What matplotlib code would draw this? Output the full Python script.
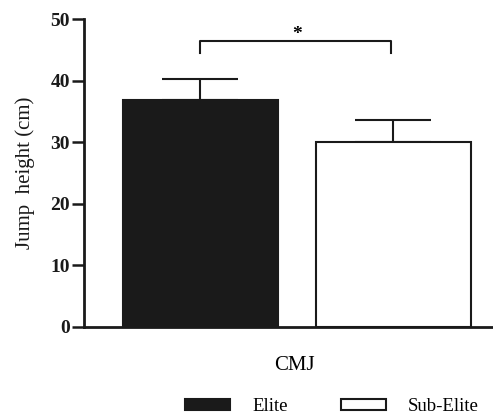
import matplotlib
matplotlib.use("Agg")
import matplotlib.pyplot as plt
from matplotlib.patches import Patch

# data
groups = ["Elite", "Sub-Elite"]
means = [36.9, 30.0]
sd = [3.4, 3.6]
colors = ["#1a1a1a", "white"]
category = "CMJ"
yticks = [0, 10, 20, 30, 40, 50]

plt.rcParams['font.family'] = ['Liberation Serif', 'DejaVu Serif']

fig = plt.figure(figsize=(4.93, 4.2), dpi=100)
ax = fig.add_axes([84/493, 0.222, 1 - 84/493, 0.732])

x = [0, 1]
ax.bar(x, means, width=0.805, color=colors, edgecolor="#1a1a1a", linewidth=1.5, zorder=2)
ax.errorbar(x, means, yerr=[[0, 0], sd], fmt="none", ecolor="#1a1a1a",
            elinewidth=1.5, capsize=27.5, capthick=1.5, zorder=1)

# significance bracket
ax.plot([0, 0, 0.99, 0.99], [44.6, 46.4, 46.4, 44.6], color="#1a1a1a", lw=1.5, clip_on=False)
ax.text(0.5, 47.6, "*", ha="center", va="center", fontsize=14, fontweight="bold")

ax.set_xlim(-0.605, 1.519)
ax.set_ylim(0, 50)
ax.set_yticks(yticks)
ax.set_yticklabels([str(t) for t in yticks], fontweight="bold", fontsize=14)
ax.tick_params(axis="y", length=9, width=1.8, pad=1, colors="#1a1a1a")
ax.set_xticks([0.49])
ax.set_xticklabels([category], fontsize=15)
ax.tick_params(axis="x", length=0, pad=21)
ax.set_ylabel("Jump  height (cm)", fontsize=15, labelpad=11, color="#1a1a1a")

for s in ["top", "right"]:
    ax.spines[s].set_visible(False)
for s in ["left", "bottom"]:
    ax.spines[s].set_linewidth(2)
    ax.spines[s].set_color("#1a1a1a")

handles = [Patch(facecolor=c, edgecolor="#1a1a1a", linewidth=1.5) for c in colors]
fig.legend(handles, groups, loc="center", bbox_to_anchor=(332/493, 0.032), ncol=2,
           frameon=False, fontsize=13.5, handlelength=2.4, handleheight=0.5,
           handletextpad=1.2, columnspacing=2.8)

fig.savefig("out.png", dpi=100)
